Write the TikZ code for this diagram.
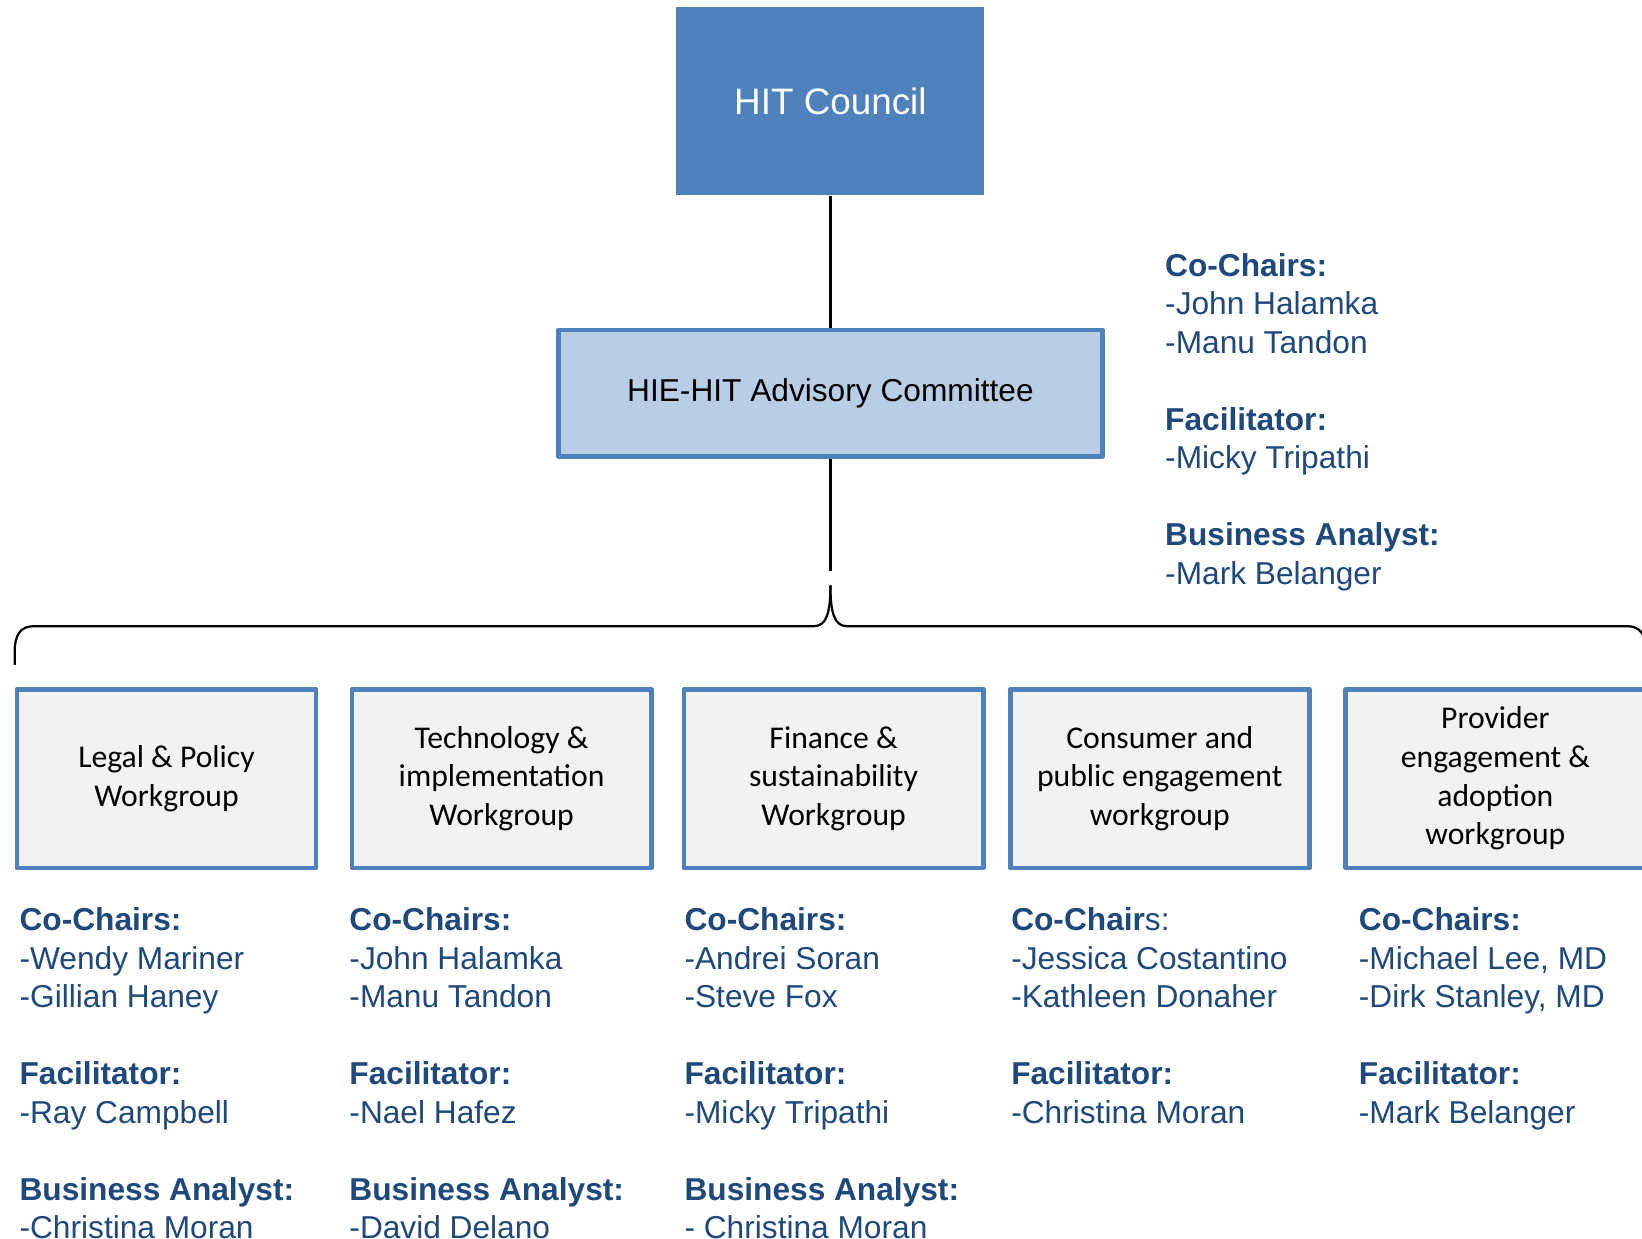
\documentclass[tikz,border=0pt]{standalone}
\usepackage{fontspec}
\setmainfont{Liberation Sans}
\newfontfamily\calib{Carlito}
\definecolor{boxblue}{HTML}{4F81BD}
\definecolor{advfill}{HTML}{B9CDE5}
\definecolor{wgfill}{HTML}{F2F2F2}
\definecolor{txtblue}{HTML}{1F497D}
\tikzset{
  council/.style={fill=boxblue, draw=none, minimum width=2.94cm, minimum height=1.79cm, inner sep=0pt,
    text=white, font=\fontsize{10}{12}\selectfont},
  advbox/.style={fill=advfill, draw=boxblue, line width=1.3pt, line join=round, minimum width=5.195cm, minimum height=1.205cm, inner sep=0pt,
    font=\fontsize{8.6}{10.46}\selectfont},
  wgbox/.style={fill=wgfill, draw=boxblue, line width=1.3pt, line join=round, minimum width=2.855cm, minimum height=1.705cm, inner sep=0pt,
    align=center, font=\calib\fontsize{8.6}{10.5}\selectfont},
  people/.style={anchor=north west, inner sep=0pt, align=left, text=txtblue, font=\fontsize{8.6}{10.46}\selectfont},
  conn/.style={line width=0.85pt, black},
  bracel/.style={line width=0.6pt, black}
}
\begin{document}
\begin{tikzpicture}[x=0.01cm,y=-0.01cm]
\clip (0,0) rectangle (1568,1183);
\fill[white] (0,0) rectangle (1568,1183);

\node[council] (hit) at (793,96.5) {HIT Council};
\node[advbox] (adv) at (793,375.5) {HIE-HIT Advisory Committee};

\draw[conn] (hit.south) -- (adv.north);
\coordinate (stem) at (793,545);
\draw[conn] (adv.south) -- (stem);

% brace
\coordinate (tip) at (793,559);
\coordinate (bl) at (777,598);
\coordinate (br) at (809,598);
\coordinate (el) at (32,598);
\coordinate (er) at (1554,598);
\coordinate (endl) at (14,635);
\coordinate (endr) at (1572,635);
\draw[bracel] (tip) .. controls (793,586) and (789,598) .. (bl) -- (el)
   .. controls (20,598) and (14,606) .. (14,622) -- (endl);
\draw[bracel] (tip) .. controls (793,586) and (797,598) .. (br) -- (er)
   .. controls (1566,598) and (1572,606) .. (1572,622) -- (endr);

% workgroups
\node[wgbox] (wg1) at (159,743.5) {Legal \& Policy\\Workgroup};
\node[wgbox] (wg2) at (479,743.5) {Technology \&\\implementation\\Workgroup};
\node[wgbox] (wg3) at (796,743.5) {Finance \&\\sustainability\\Workgroup};
\node[wgbox] (wg4) at (1107.5,743.5) {Consumer and\\public engagement\\workgroup};
\node[wgbox] (wg5) at (1428,743.5) {Provider\\engagement \&\\adoption\\workgroup};

% people
\node[people] (pc) at (1112,241) {\textbf{Co-Chairs:}\\-John Halamka\\-Manu Tandon\\[10.46pt]\textbf{Facilitator:}\\-Micky Tripathi\\[10.46pt]\textbf{Business Analyst:}\\-Mark Belanger};

\node[people] (p1) at (18,866) {\textbf{Co-Chairs:}\\-Wendy Mariner\\-Gillian Haney\\[10.46pt]\textbf{Facilitator:}\\-Ray Campbell\\[10.46pt]\textbf{Business Analyst:}\\-Christina Moran};
\node[people] (p2) at (333,866) {\textbf{Co-Chairs:}\\-John Halamka\\-Manu Tandon\\[10.46pt]\textbf{Facilitator:}\\-Nael Hafez\\[10.46pt]\textbf{Business Analyst:}\\-David Delano};
\node[people] (p3) at (653,866) {\textbf{Co-Chairs:}\\-Andrei Soran\\-Steve Fox\\[10.46pt]\textbf{Facilitator:}\\-Micky Tripathi\\[10.46pt]\textbf{Business Analyst:}\\- Christina Moran};
\node[people] (p4) at (965,866) {\textbf{Co-Chair}s:\\-Jessica Costantino\\-Kathleen Donaher\\[10.46pt]\textbf{Facilitator:}\\-Christina Moran};
\node[people] (p5) at (1297,866) {\textbf{Co-Chairs:}\\-Michael Lee, MD\\-Dirk Stanley, MD\\[10.46pt]\textbf{Facilitator:}\\-Mark Belanger};
\end{tikzpicture}
\end{document}
